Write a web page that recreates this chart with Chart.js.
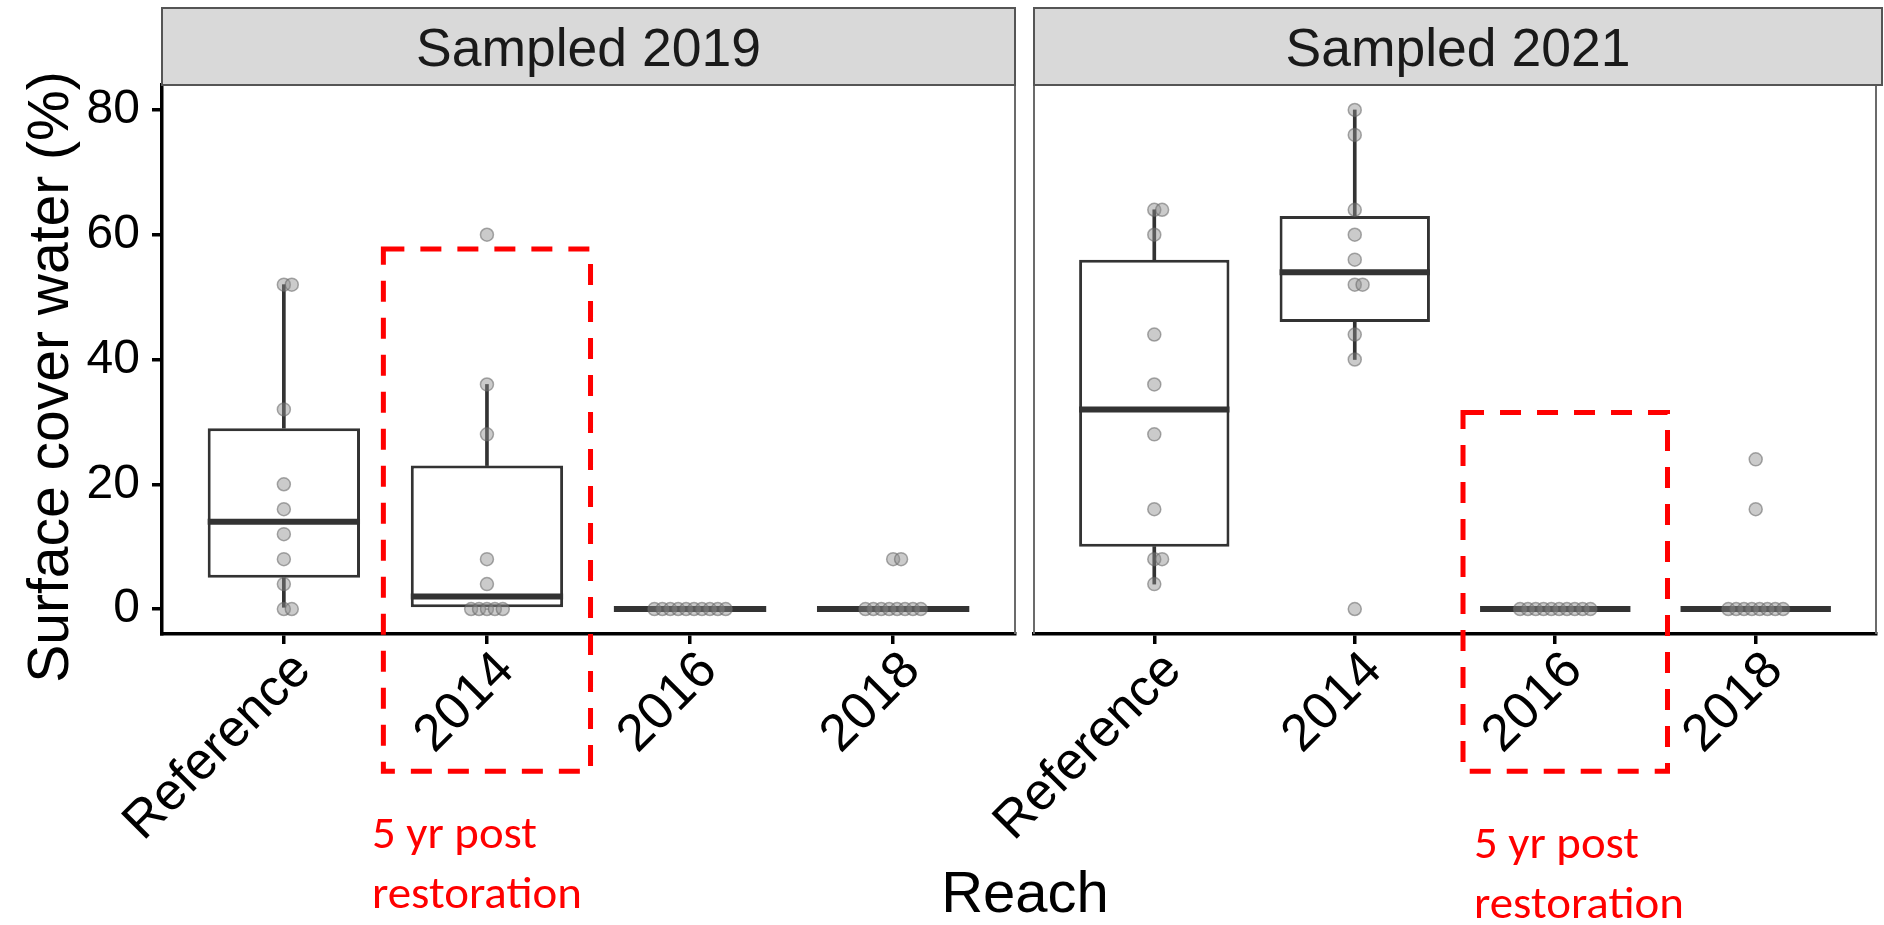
<!DOCTYPE html>
<html>
<head>
<meta charset="utf-8">
<script src="https://cdn.jsdelivr.net/npm/chart.js@4.4.1/dist/chart.umd.min.js"></script>
<style>
  html, body { margin: 0; padding: 0; background: #ffffff; }
  body { width: 1884px; height: 925px; position: relative; overflow: hidden; font-family: "Liberation Sans", Arial, sans-serif; }
  canvas { position: absolute; left: 0; top: 0; }
  svg { position: absolute; left: 0; top: 0; pointer-events: none; }
</style>
</head>
<body>
<canvas id="c2019" width="1884" height="925"></canvas>
<canvas id="c2021" width="1884" height="925"></canvas>
<svg id="overlay" width="1884" height="925" xmlns="http://www.w3.org/2000/svg"></svg>
<script>
// ---------------- data ----------------
const reaches = ['Reference', '2014', '2016', '2018'];
const facetTitles = ['Sampled 2019', 'Sampled 2021'];
const yTicks = [0, 20, 40, 60, 80];
const yTitle = 'Surface cover water (%)';
const xTitle = 'Reach';
const noteLines = ['5 yr post', 'restoration'];

// individual observations (grey dots), sampled 2019
const obs2019Reference = [52, 52, 32, 20, 16, 12, 8, 4, 0, 0];
const obs2019Reach2014 = [60, 36, 28, 8, 4, 0, 0, 0, 0, 0];
const obs2019Reach2016 = [0, 0, 0, 0, 0, 0, 0, 0, 0, 0];
const obs2019Reach2018 = [8, 8, 0, 0, 0, 0, 0, 0, 0, 0];
// sampled 2021
const obs2021Reference = [64, 64, 60, 44, 36, 28, 16, 8, 8, 4];
const obs2021Reach2014 = [80, 76, 64, 60, 56, 52, 52, 44, 40, 0];
const obs2021Reach2016 = [0, 0, 0, 0, 0, 0, 0, 0, 0, 0];
const obs2021Reach2018 = [24, 16, 0, 0, 0, 0, 0, 0, 0, 0];

// box statistics per reach (Reference, 2014, 2016, 2018)
const lower2019  = [0, 0, 0, 0];
const q1_2019    = [5, 0, 0, 0];
const median2019 = [14, 2, 0, 0];
const q3_2019    = [29, 23, 0, 0];
const upper2019  = [52, 36, 0, 0];

const lower2021  = [4, 40, 0, 0];
const q1_2021    = [10, 46, 0, 0];
const median2021 = [32, 54, 0, 0];
const q3_2021    = [56, 63, 0, 0];
const upper2021  = [64, 80, 0, 0];

// highlighted reach (red dashed frame), in data units of each panel
const highlight2019 = { from: 1.49, to: 2.51, top: 57.7, bottom: -26 };
const highlight2021 = { from: 2.54, to: 3.56, top: 31.5, bottom: -26 };

// ---------------- helpers ----------------
const FONT = '"Liberation Sans", Arial, sans-serif';
const DARK = '#333333';
const SWARM_STEP = 0.039;   // horizontal spacing of tied dots (category units)
const BOX_HALF = 0.375;     // half box width (category units)

function swarm(groups) {
  const pts = [];
  groups.forEach((vals, gi) => {
    const counts = {};
    vals.forEach(v => counts[v] = (counts[v] || 0) + 1);
    const seen = {};
    vals.forEach(v => {
      const n = counts[v];
      const k = (seen[v] = (seen[v] || 0) + 1) - 1;
      const off = n === 1 ? 0 : (n === 2 ? k : k - (n - 1) / 2);
      pts.push({ x: gi + 1 + off * SWARM_STEP, y: v });
    });
  });
  return pts;
}

function seg(lo, hi) {
  return lo.map((v, i) => ({ x: i + 1, y: [v, hi[i]] }));
}

function makePanel(canvasId, obs, lo, q1, med, q3, hi, first, hl) {
  const decor = {
    id: 'decor',
    afterDraw(chart) {
      const { ctx, chartArea: a, scales: { x, y } } = chart;
      ctx.save();
      ctx.strokeStyle = '#6b6b6b';
      ctx.lineWidth = 2;
      ctx.beginPath();
      ctx.moveTo(a.left, a.top); ctx.lineTo(a.right, a.top);
      ctx.moveTo(a.right, a.top); ctx.lineTo(a.right, a.bottom);
      if (!first) { ctx.moveTo(a.left, a.top); ctx.lineTo(a.left, a.bottom); }
      ctx.stroke();
      // red dashed highlight frame
      const x0 = x.getPixelForValue(hl.from), x1 = x.getPixelForValue(hl.to);
      const y0 = y.getPixelForValue(hl.top), y1 = y.getPixelForValue(hl.bottom);
      ctx.strokeStyle = '#ff0000';
      ctx.lineWidth = 5;
      ctx.setLineDash([21, 16]);
      ctx.beginPath();
      ctx.moveTo(x0, y0); ctx.lineTo(x1, y0); ctx.lineTo(x1, y1); ctx.lineTo(x0, y1); ctx.closePath();
      ctx.stroke();
      ctx.restore();
    }
  };

  return new Chart(document.getElementById(canvasId), {
    type: 'bar',
    data: {
      datasets: [
        { // grey dots
          type: 'scatter', order: 1,
          data: swarm(obs),
          pointRadius: 6.5, pointBorderWidth: 1.5,
          backgroundColor: 'rgba(140,140,140,0.45)',
          borderColor: 'rgba(100,100,100,0.55)'
        },
        { // medians
          type: 'scatter', order: 2,
          data: med.map((v, i) => ({ x: i + 1, y: v })),
          pointStyle: 'line',
          pointRadius: ctx => {
            const s = ctx.chart.scales.x;
            return s.getPixelForValue(1 + BOX_HALF) - s.getPixelForValue(1);
          },
          pointBorderWidth: 6,
          borderColor: DARK, backgroundColor: DARK
        },
        { // boxes
          type: 'bar', order: 3, grouped: false,
          data: seg(q1, q3),
          backgroundColor: '#ffffff', borderColor: DARK, borderWidth: 3,
          borderSkipped: false, categoryPercentage: 1, barPercentage: 0.75
        },
        { // lower whiskers
          type: 'bar', order: 4, grouped: false,
          data: seg(lo, q1),
          backgroundColor: DARK, borderWidth: 0, maxBarThickness: 3,
          categoryPercentage: 1, barPercentage: 1
        },
        { // upper whiskers
          type: 'bar', order: 4, grouped: false,
          data: seg(q3, hi),
          backgroundColor: DARK, borderWidth: 0, maxBarThickness: 3,
          categoryPercentage: 1, barPercentage: 1
        }
      ]
    },
    options: {
      responsive: false,
      animation: false,
      events: [],
      devicePixelRatio: 1,
      layout: { padding: first ? { left: 0, top: 85, right: 1884 - 1015, bottom: 0 }
                               : { left: 1034, top: 85, right: 2, bottom: 0 } },
      plugins: { legend: { display: false }, tooltip: { enabled: false } },
      scales: {
        x: {
          type: 'linear', min: 0.4, max: 4.6, offset: false,
          afterBuildTicks: s => { s.ticks = reaches.map((r, i) => ({ value: i + 1 })); },
          afterFit: s => { s.height = 925 - 634; },
          border: { display: true, color: '#000', width: 3.5 },
          grid: { display: true, drawOnChartArea: false, drawTicks: true, tickLength: 10, color: '#000', lineWidth: 3.5, offset: false },
          ticks: {
            autoSkip: false, minRotation: 45, maxRotation: 45,
            padding: -4, labelOffset: 19,
            color: '#000', font: { family: FONT, size: 52 },
            callback: v => reaches[Math.round(v) - 1]
          }
        },
        y: {
          type: 'linear', min: -4, max: 84, display: first,
          afterBuildTicks: s => { s.ticks = yTicks.map(v => ({ value: v })); },
          afterFit: s => { s.width = first ? 162 : 0; },
          border: { display: true, color: '#000', width: 3.5 },
          grid: { display: true, drawOnChartArea: false, drawTicks: true, tickLength: 10, color: '#000', lineWidth: 3.5 },
          ticks: { padding: 12, color: '#000', font: { family: FONT, size: 48 } }
        }
      }
    },
    plugins: [decor]
  });
}

makePanel('c2019',
  [obs2019Reference, obs2019Reach2014, obs2019Reach2016, obs2019Reach2018],
  lower2019, q1_2019, median2019, q3_2019, upper2019, true, highlight2019);
makePanel('c2021',
  [obs2021Reference, obs2021Reach2014, obs2021Reach2016, obs2021Reach2018],
  lower2021, q1_2021, median2021, q3_2021, upper2021, false, highlight2021);

// ---------------- text overlay (strips, axis titles, notes) ----------------
const NS = 'http://www.w3.org/2000/svg';
const svg = document.getElementById('overlay');
function el(tag, attrs, text) {
  const e = document.createElementNS(NS, tag);
  for (const k in attrs) e.setAttribute(k, attrs[k]);
  if (text !== undefined) e.textContent = text;
  svg.appendChild(e);
  return e;
}
const strips = [{ left: 162, right: 1015 }, { left: 1034, right: 1882 }];
strips.forEach((s, i) => {
  el('rect', { x: s.left, y: 8, width: s.right - s.left, height: 77, fill: '#d9d9d9', stroke: '#555555', 'stroke-width': 2 });
  el('text', { x: (s.left + s.right) / 2, y: 66, 'text-anchor': 'middle', 'font-family': FONT, 'font-size': 53.5, fill: '#1a1a1a' }, facetTitles[i]);
});
el('text', { transform: 'translate(68,377) rotate(-90)', 'text-anchor': 'middle', 'font-family': FONT, 'font-size': 57, fill: '#000' }, yTitle);
el('text', { x: 1025, y: 912, 'text-anchor': 'middle', 'font-family': FONT, 'font-size': 58, fill: '#000' }, xTitle);

const notes = [{ x: 372, y: [848, 908] }, { x: 1474, y: [858, 918] }];
const noteWidths = [165, 210];
notes.forEach(n => {
  noteLines.forEach((t, j) => {
    el('text', { x: n.x, y: n.y[j], 'font-family': 'Carlito, Calibri, Lato, sans-serif', 'font-size': 45, fill: '#ff0000',
                 textLength: noteWidths[j], lengthAdjust: 'spacingAndGlyphs' }, t);
  });
});
</script>
</body>
</html>
